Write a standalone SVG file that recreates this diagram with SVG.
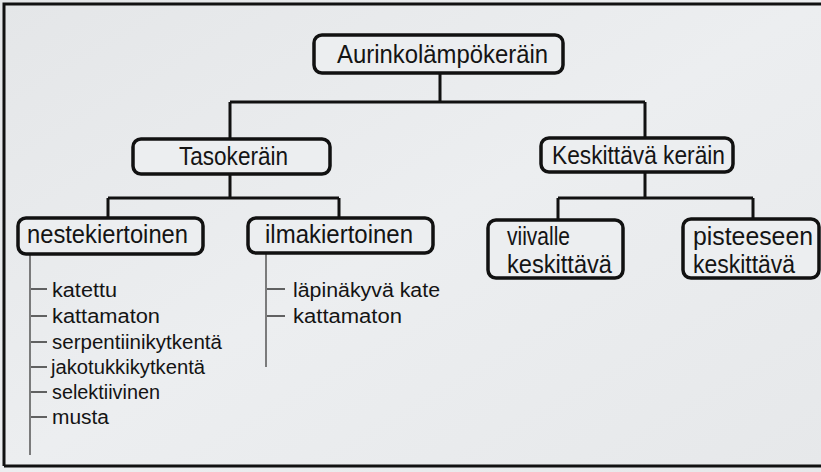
<svg xmlns="http://www.w3.org/2000/svg" width="821" height="472" viewBox="0 0 821 472">
<defs>
<linearGradient id="bg" x1="0" y1="0" x2="1" y2="1">
<stop offset="0" stop-color="#e4e6e8"/>
<stop offset="0.5" stop-color="#eceef0"/>
<stop offset="1" stop-color="#e6e8ea"/>
</linearGradient>
<style>
.box{fill:#eceef0;stroke:#111;stroke-width:3.5}
.con{stroke:#111;stroke-width:3;fill:none}
.lst{stroke:#555;stroke-width:1.5;fill:none}
.dash{stroke:#333;stroke-width:1.6;fill:none}
.t{font-family:"Liberation Sans",Arial,sans-serif;fill:#141414}
.n{font-size:25px}
.s{font-size:20px}
</style>
</defs>
<rect x="0" y="0" width="821" height="472" fill="url(#bg)"/>
<path d="M4 466 V4 H821 M4 466 H821" stroke="#111" stroke-width="3" fill="none"/>
<g id="connectors">
<path class="con" d="M440 73 V102 M230 102 H645 M230 102 V139 M645 102 V138"/>
<path class="con" d="M230 174 V198 M108 198 H339 M108 198 V218 M339 198 V218"/>
<path class="con" d="M645 172 V198 M558 198 H753 M558 198 V220 M753 198 V220"/>
<path class="lst" d="M30 254 V455 M266 253 V367"/>
<path class="dash" d="M31 289 H47 M31 316 H47 M31 342 H47 M31 367 H47 M31 392 H47 M31 417 H47 M267 289 H285 M267 316 H285"/>
</g>
<g id="aurinkolampokerain">
<rect class="box" x="314" y="35" width="249" height="38" rx="8"/>
<text class="t n" x="337" y="63" textLength="211" lengthAdjust="spacingAndGlyphs">Aurinkolämpökeräin</text>
</g>
<g id="tasokerain">
<rect class="box" x="133" y="139" width="197" height="35" rx="8"/>
<text class="t n" x="179" y="165" textLength="109" lengthAdjust="spacingAndGlyphs">Tasokeräin</text>
</g>
<g id="keskittava-kerain">
<rect class="box" x="541" y="138" width="192" height="34" rx="8"/>
<text class="t n" x="552" y="164" textLength="173" lengthAdjust="spacingAndGlyphs">Keskittävä keräin</text>
</g>
<g id="nestekiertoinen">
<rect class="box" x="18" y="218" width="185" height="36" rx="8"/>
<text class="t n" x="27" y="243" textLength="161" lengthAdjust="spacingAndGlyphs">nestekiertoinen</text>
</g>
<g id="ilmakiertoinen">
<rect class="box" x="248" y="218" width="185" height="35" rx="8"/>
<text class="t n" x="265" y="243" textLength="148" lengthAdjust="spacingAndGlyphs">ilmakiertoinen</text>
</g>
<g id="viivalle-keskittava">
<rect class="box" x="488" y="220" width="135" height="58" rx="8"/>
<text class="t n" x="507" y="245" textLength="63" lengthAdjust="spacingAndGlyphs">viivalle</text>
<text class="t n" x="507" y="273" textLength="105" lengthAdjust="spacingAndGlyphs">keskittävä</text>
</g>
<g id="pisteeseen-keskittava">
<rect class="box" x="683" y="219" width="136" height="59" rx="8"/>
<text class="t n" x="693" y="245" textLength="120" lengthAdjust="spacingAndGlyphs">pisteeseen</text>
<text class="t n" x="693" y="273" textLength="102" lengthAdjust="spacingAndGlyphs">keskittävä</text>
</g>
<g id="neste-list">
<text class="t s" x="52" y="297" textLength="65" lengthAdjust="spacingAndGlyphs">katettu</text>
<text class="t s" x="52" y="323" textLength="108" lengthAdjust="spacingAndGlyphs">kattamaton</text>
<text class="t s" x="52" y="349" textLength="170" lengthAdjust="spacingAndGlyphs">serpentiinikytkentä</text>
<text class="t s" x="51" y="374" textLength="154" lengthAdjust="spacingAndGlyphs">jakotukkikytkentä</text>
<text class="t s" x="52" y="399" textLength="108" lengthAdjust="spacingAndGlyphs">selektiivinen</text>
<text class="t s" x="52" y="424" textLength="57" lengthAdjust="spacingAndGlyphs">musta</text>
</g>
<g id="ilma-list">
<text class="t s" x="293" y="297" textLength="147" lengthAdjust="spacingAndGlyphs">läpinäkyvä kate</text>
<text class="t s" x="293" y="323" textLength="109" lengthAdjust="spacingAndGlyphs">kattamaton</text>
</g>
</svg>
